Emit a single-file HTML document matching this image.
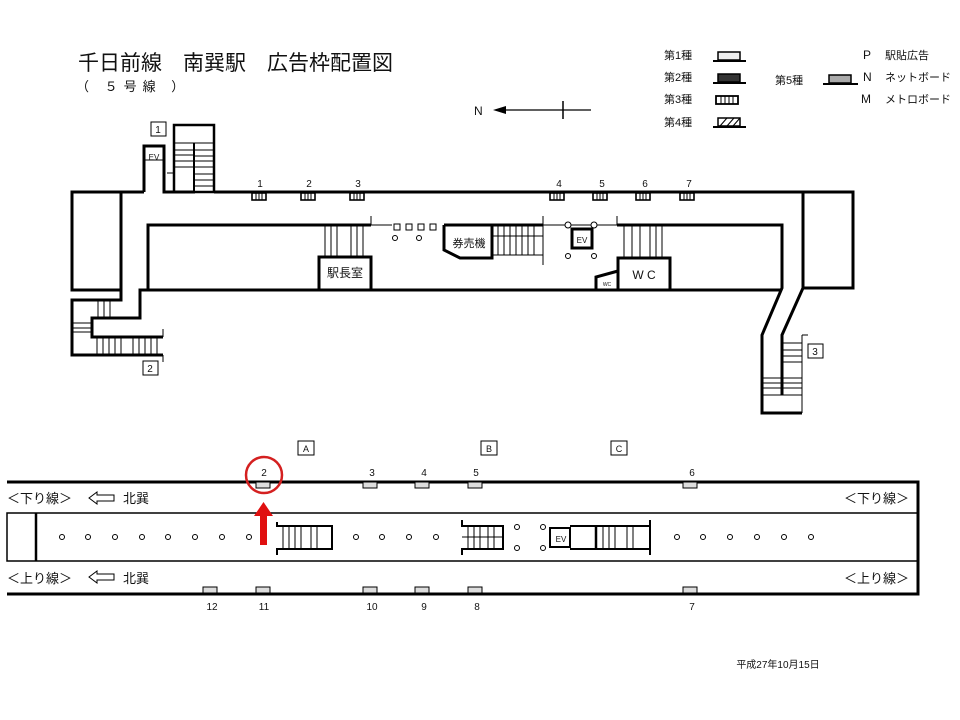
<!DOCTYPE html>
<html><head><meta charset="utf-8"><style>
body{margin:0;background:#fff}
svg{display:block}
text{font-family:"Liberation Sans","Noto Sans CJK JP",sans-serif;fill:#111}
</style></head><body>
<svg width="960" height="720" viewBox="0 0 960 720" xmlns="http://www.w3.org/2000/svg">
<rect width="960" height="720" fill="#fff"/>
<text x="78" y="70" font-size="21">千日前線　南巽駅　広告枠配置図</text>
<text x="76" y="91" font-size="13" letter-spacing="6">（ ５号線 ）</text>
<text x="474" y="115" font-size="12">N</text>
<line x1="498" y1="110" x2="591" y2="110" stroke="#000" stroke-width="1.3"/>
<polygon points="493,110 506,106 506,114" fill="#000"/>
<line x1="563" y1="101" x2="563" y2="119" stroke="#000" stroke-width="1.5"/>
<g font-size="11">
<text x="664" y="59">第1種</text><text x="664" y="81">第2種</text><text x="664" y="103">第3種</text><text x="664" y="126">第4種</text>
<text x="775" y="84">第5種</text>
<text x="863" y="59" font-size="12">P</text><text x="863" y="81" font-size="12">N</text><text x="861" y="103" font-size="12">M</text>
<text x="885" y="59">駅貼広告</text><text x="885" y="81">ネットボード</text><text x="885" y="103">メトロボード</text>
</g>
<g stroke="#000">
<rect x="718" y="52" width="22" height="8" fill="#eee" stroke-width="1.5"/><line x1="713" y1="61" x2="746" y2="61" stroke-width="2"/>
<rect x="718" y="74" width="22" height="8" fill="#333" stroke-width="1.5"/><line x1="713" y1="83" x2="746" y2="83" stroke-width="2"/>
<rect x="716" y="96" width="22" height="8" fill="#fff" stroke-width="1.8"/>
<line x1="721" y1="96" x2="721" y2="104"/><line x1="725" y1="96" x2="725" y2="104"/><line x1="729" y1="96" x2="729" y2="104"/><line x1="733" y1="96" x2="733" y2="104"/>
<rect x="718" y="118" width="22" height="8" fill="#fff" stroke-width="1.5"/>
<line x1="720" y1="126" x2="727" y2="118"/><line x1="727" y1="126" x2="734" y2="118"/><line x1="733" y1="126" x2="740" y2="118"/>
<line x1="713" y1="127" x2="746" y2="127" stroke-width="2"/>
<rect x="829" y="75" width="22" height="8" fill="#aaa" stroke-width="1.5"/><line x1="823" y1="84" x2="858" y2="84" stroke-width="2"/>
</g>

<g fill="none" stroke="#000" stroke-width="3">
<polyline points="144,192 72,192 72,290 121,290 121,192"/>
<polyline points="144,192 144,146 164,146 164,192 195,192"/>
<rect x="174" y="125" width="40" height="67" stroke-width="2.5"/>
<line x1="214" y1="192" x2="803" y2="192"/>
<rect x="803" y="192" width="50" height="96"/>
<polyline points="371,225 148,225 148,290 140,290 140,318 92,318 92,337 163,337"/>
<polyline points="121,290 121,300 72,300 72,355 163,355"/>
<line x1="148" y1="290" x2="782" y2="290"/>
<polyline points="444,225 492,225 492,258 460,258 444,250 444,225"/>
<line x1="492" y1="225" x2="543" y2="225"/>
<polyline points="617,225 782,225 782,288 762,335 762,413 802,413"/>
<polyline points="803,288 782,335 782,395"/>
<rect x="319" y="257" width="52" height="33"/>
<polyline points="618,290 618,258 670,258 670,290"/>
<polyline points="596,290 596,277 618,271"/>
<rect x="572" y="229" width="20" height="19"/>
</g>
<g fill="none" stroke="#000" stroke-width="1">
<line x1="174" y1="143" x2="214" y2="143"/><line x1="194" y1="143" x2="194" y2="192" stroke-width="2"/>
<polyline points="174,143 174,173 167,173"/>
<line x1="174" y1="150" x2="194" y2="150"/><line x1="174" y1="155" x2="194" y2="155"/><line x1="174" y1="161" x2="194" y2="161"/><line x1="174" y1="167" x2="194" y2="167"/>
<line x1="194" y1="150" x2="214" y2="150"/><line x1="194" y1="156" x2="214" y2="156"/><line x1="194" y1="161" x2="214" y2="161"/><line x1="194" y1="167" x2="214" y2="167"/><line x1="194" y1="174" x2="214" y2="174"/><line x1="194" y1="180" x2="214" y2="180"/><line x1="194" y1="186" x2="214" y2="186"/>
<line x1="144" y1="160" x2="164" y2="160"/>
<line x1="97" y1="337" x2="97" y2="355"/><line x1="103" y1="337" x2="103" y2="355"/><line x1="109" y1="337" x2="109" y2="355"/><line x1="115" y1="337" x2="115" y2="355"/><line x1="121" y1="337" x2="121" y2="355"/><line x1="133" y1="337" x2="133" y2="355"/><line x1="139" y1="337" x2="139" y2="355"/><line x1="145" y1="337" x2="145" y2="355"/><line x1="151" y1="337" x2="151" y2="355"/><line x1="157" y1="337" x2="157" y2="355"/>
<line x1="163" y1="329" x2="163" y2="337"/><line x1="163" y1="355" x2="163" y2="362"/>
<line x1="98" y1="300" x2="98" y2="318"/><line x1="104" y1="300" x2="104" y2="318"/><line x1="110" y1="300" x2="110" y2="318"/>
<line x1="72" y1="323" x2="92" y2="323"/><line x1="72" y1="328" x2="92" y2="328"/><line x1="72" y1="332" x2="92" y2="332"/>
<line x1="325" y1="225" x2="325" y2="257"/><line x1="331" y1="225" x2="331" y2="257"/><line x1="337" y1="225" x2="337" y2="257"/><line x1="351" y1="225" x2="351" y2="257"/><line x1="357" y1="225" x2="357" y2="257"/><line x1="363" y1="225" x2="363" y2="257"/>
<line x1="371" y1="216" x2="371" y2="225"/><line x1="371" y1="225" x2="392" y2="225"/>
<line x1="498" y1="225" x2="498" y2="255"/><line x1="504" y1="225" x2="504" y2="255"/><line x1="510" y1="225" x2="510" y2="255"/><line x1="516" y1="225" x2="516" y2="255"/><line x1="522" y1="225" x2="522" y2="255"/><line x1="528" y1="225" x2="528" y2="255"/><line x1="534" y1="225" x2="534" y2="255"/>
<line x1="492" y1="236" x2="543" y2="236"/><line x1="492" y1="255" x2="543" y2="255"/>
<line x1="543" y1="216" x2="543" y2="265"/><line x1="543" y1="225" x2="617" y2="225"/><line x1="617" y1="216" x2="617" y2="225"/>
<line x1="624" y1="225" x2="624" y2="258"/><line x1="632" y1="225" x2="632" y2="258"/><line x1="640" y1="225" x2="640" y2="258"/><line x1="650" y1="225" x2="650" y2="258"/><line x1="656" y1="225" x2="656" y2="258"/><line x1="662" y1="225" x2="662" y2="258"/>
<line x1="802" y1="335" x2="802" y2="413"/><line x1="802" y1="335" x2="808" y2="335"/>
<line x1="782" y1="343" x2="802" y2="343"/><line x1="782" y1="350" x2="802" y2="350"/><line x1="782" y1="356" x2="802" y2="356"/><line x1="782" y1="362" x2="802" y2="362"/>
<line x1="762" y1="378" x2="802" y2="378"/><line x1="762" y1="383" x2="802" y2="383"/><line x1="762" y1="388" x2="802" y2="388"/><line x1="762" y1="395" x2="802" y2="395"/>
</g>
<g fill="#fff" stroke="#000" stroke-width="1">
<rect x="394" y="224" width="6" height="6"/><rect x="406" y="224" width="6" height="6"/><rect x="418" y="224" width="6" height="6"/><rect x="430" y="224" width="6" height="6"/>
<circle cx="395" cy="238" r="2.5"/><circle cx="419" cy="238" r="2.5"/>
<circle cx="568" cy="225" r="3"/><circle cx="594" cy="225" r="3"/>
<circle cx="568" cy="256" r="2.5"/><circle cx="594" cy="256" r="2.5"/>
</g>
<g fill="#fff" stroke="#000" stroke-width="1.6">
<rect x="252" y="193" width="14" height="7"/><rect x="301" y="193" width="14" height="7"/><rect x="350" y="193" width="14" height="7"/>
<rect x="550" y="193" width="14" height="7"/><rect x="593" y="193" width="14" height="7"/><rect x="636" y="193" width="14" height="7"/><rect x="680" y="193" width="14" height="7"/>
</g>
<g stroke="#000" stroke-width="1">
<path d="M256 193v7M259 193v7M262 193v7M305 193v7M308 193v7M311 193v7M354 193v7M357 193v7M360 193v7M554 193v7M557 193v7M560 193v7M597 193v7M600 193v7M603 193v7M640 193v7M643 193v7M646 193v7M684 193v7M687 193v7M690 193v7"/>
</g>
<g font-size="10" text-anchor="middle">
<text x="260" y="187">1</text><text x="309" y="187">2</text><text x="358" y="187">3</text>
<text x="559" y="187">4</text><text x="602" y="187">5</text><text x="645" y="187">6</text><text x="689" y="187">7</text>
<text x="154" y="160" font-size="8">EV</text>
<text x="582" y="243" font-size="8">EV</text>
<text x="607" y="286" font-size="5">WC</text>
<text x="644" y="279" font-size="12">W C</text>
<text x="345" y="277" font-size="12">駅長室</text>
<text x="469" y="247" font-size="11">券売機</text>
<text x="561" y="542" font-size="8">EV</text>
</g>
<g fill="#fff" stroke="#000" stroke-width="1">
<rect x="151" y="122" width="15" height="14"/><rect x="143" y="361" width="15" height="14"/><rect x="808" y="344" width="15" height="14"/>
<rect x="298" y="441" width="16" height="14"/><rect x="481" y="441" width="16" height="14"/><rect x="611" y="441" width="16" height="14"/>
</g>
<g font-size="10" text-anchor="middle">
<text x="158" y="133">1</text><text x="150" y="372">2</text><text x="815" y="355">3</text>
<text x="306" y="452" font-size="9">A</text><text x="489" y="452" font-size="9">B</text><text x="619" y="452" font-size="9">C</text>
</g>

<g fill="none" stroke="#000">
<polyline points="7,482 918,482 918,594 7,594" stroke-width="3"/>
<rect x="7" y="513" width="911" height="48" stroke-width="1.5"/>
<line x1="36" y1="513" x2="36" y2="561" stroke-width="2.5"/>
<polyline points="277,522 277,526 332,526 332,549 277,549 277,555" stroke-width="2"/>
<path d="M283 526v23M289 526v23M295 526v23M301 526v23M311 526v23M317 526v23" stroke-width="1"/>
<polyline points="462,520 462,526 503,526 503,549 462,549 462,555" stroke-width="2"/>
<path d="M468 526v23M474 526v23M480 526v23M488 526v23M494 526v23M462 537h41" stroke-width="1"/>
<rect x="550" y="528" width="20" height="19" stroke-width="2"/>
<path d="M570 526h80M570 549h80M650 520v35" stroke-width="2"/>
<path d="M596 526v23" stroke-width="2.5"/>
<path d="M603 526v23M609 526v23M615 526v23M627 526v23M633 526v23" stroke-width="1"/>
</g>
<g fill="#fff" stroke="#000" stroke-width="1">
<circle cx="62" cy="537" r="2.5"/><circle cx="88" cy="537" r="2.5"/><circle cx="115" cy="537" r="2.5"/><circle cx="142" cy="537" r="2.5"/><circle cx="168" cy="537" r="2.5"/><circle cx="195" cy="537" r="2.5"/><circle cx="222" cy="537" r="2.5"/><circle cx="249" cy="537" r="2.5"/>
<circle cx="356" cy="537" r="2.5"/><circle cx="382" cy="537" r="2.5"/><circle cx="409" cy="537" r="2.5"/><circle cx="436" cy="537" r="2.5"/>
<circle cx="517" cy="527" r="2.5"/><circle cx="543" cy="527" r="2.5"/><circle cx="517" cy="548" r="2.5"/><circle cx="543" cy="548" r="2.5"/>
<circle cx="677" cy="537" r="2.5"/><circle cx="703" cy="537" r="2.5"/><circle cx="730" cy="537" r="2.5"/><circle cx="757" cy="537" r="2.5"/><circle cx="784" cy="537" r="2.5"/><circle cx="811" cy="537" r="2.5"/>
</g>
<g fill="#ddd" stroke="#000" stroke-width="1">
<rect x="256" y="482" width="14" height="6"/><rect x="363" y="482" width="14" height="6"/><rect x="415" y="482" width="14" height="6"/><rect x="468" y="482" width="14" height="6"/><rect x="683" y="482" width="14" height="6"/>
<rect x="203" y="587" width="14" height="6"/><rect x="256" y="587" width="14" height="6"/><rect x="363" y="587" width="14" height="6"/><rect x="415" y="587" width="14" height="6"/><rect x="468" y="587" width="14" height="6"/><rect x="683" y="587" width="14" height="6"/>
</g>
<g font-size="10" text-anchor="middle">
<text x="264" y="476">2</text><text x="372" y="476">3</text><text x="424" y="476">4</text><text x="476" y="476">5</text><text x="692" y="476">6</text>
<text x="212" y="610">12</text><text x="264" y="610">11</text><text x="372" y="610">10</text><text x="424" y="610">9</text><text x="477" y="610">8</text><text x="692" y="610">7</text>
<text x="778" y="668" font-size="10">平成27年10月15日</text>
</g>
<g font-size="13">
<text x="7" y="503">＜下り線＞</text><text x="123" y="503">北巽</text>
<text x="7" y="583">＜上り線＞</text><text x="123" y="583">北巽</text>
<text x="844" y="503">＜下り線＞</text><text x="844" y="583">＜上り線＞</text>
</g>
<g fill="#fff" stroke="#000" stroke-width="1">
<polygon points="89,498 97,492 97,495 114,495 114,501 97,501 97,504"/>
<polygon points="89,577 97,571 97,574 114,574 114,580 97,580 97,583"/>
</g>
<circle cx="264" cy="475" r="18" fill="none" stroke="#d42020" stroke-width="2.5"/>
<rect x="260" y="515" width="7" height="30" fill="#e01010"/>
<polygon points="254,516 273,516 263.5,502" fill="#e01010"/>
</svg>
</body></html>
